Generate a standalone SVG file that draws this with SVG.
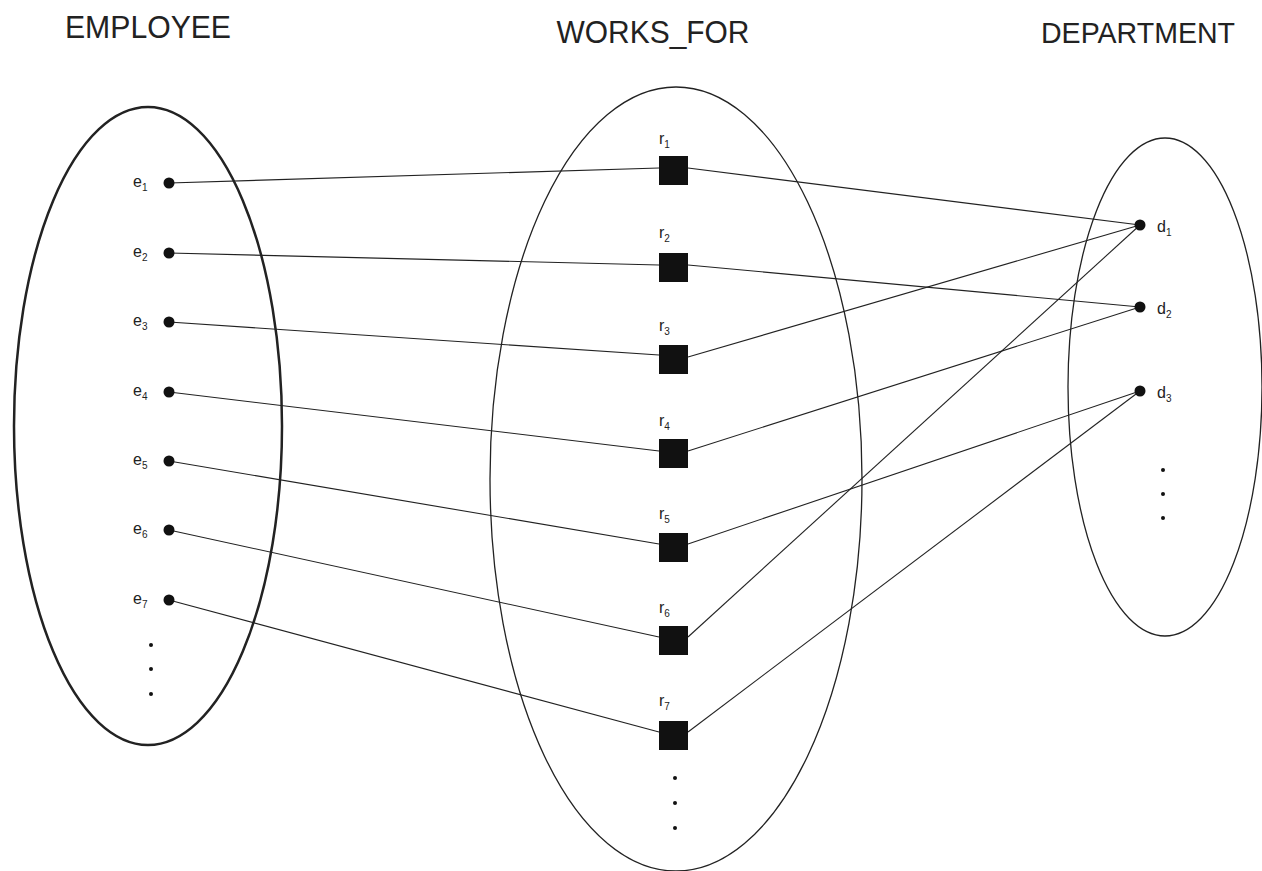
<svg xmlns="http://www.w3.org/2000/svg" width="1262" height="871" viewBox="0 0 1262 871">
<style>
.set{fill:none;stroke:#222;stroke-width:1.3}
.title{font-family:"Liberation Sans",Arial,sans-serif;font-size:31px;fill:#222}
.lbl{font-family:"Liberation Sans",Arial,sans-serif;font-size:16px;fill:#222}
.sub{font-size:10px}
.dot{fill:#111}
.sq{fill:#111}
.ln{stroke:#222;stroke-width:1.1;fill:none}
</style>
<rect width="1262" height="871" fill="#fff"/>
<g id="titles">
<text class="title" x="148" y="38" text-anchor="middle" textLength="166" lengthAdjust="spacingAndGlyphs">EMPLOYEE</text>
<text class="title" x="653" y="43" text-anchor="middle" textLength="193" lengthAdjust="spacingAndGlyphs">WORKS_FOR</text>
<text class="title" x="1138" y="43" text-anchor="middle" textLength="194" lengthAdjust="spacingAndGlyphs" style="font-size:30px">DEPARTMENT</text>
</g>
<g id="sets">
<ellipse id="employee-set" class="set" cx="148" cy="426" rx="134" ry="319" style="stroke-width:2.5"/>
<ellipse id="works_for-set" class="set" cx="676" cy="479" rx="186" ry="392"/>
<ellipse id="department-set" class="set" cx="1165" cy="387" rx="97" ry="249"/>
</g>
<g id="connectors">
<line class="ln" x1="169" y1="183" x2="659" y2="168"/>
<line class="ln" x1="169" y1="253" x2="659" y2="265"/>
<line class="ln" x1="169" y1="322" x2="659" y2="355"/>
<line class="ln" x1="169" y1="392" x2="659" y2="451"/>
<line class="ln" x1="169" y1="461" x2="659" y2="544"/>
<line class="ln" x1="169" y1="530" x2="659" y2="637"/>
<line class="ln" x1="169" y1="600" x2="659" y2="732"/>
<line class="ln" x1="688" y1="168" x2="1140" y2="225"/>
<line class="ln" x1="688" y1="265" x2="1140" y2="307"/>
<line class="ln" x1="688" y1="357" x2="1140" y2="225"/>
<line class="ln" x1="688" y1="451" x2="1140" y2="307"/>
<line class="ln" x1="688" y1="544" x2="1140" y2="391"/>
<line class="ln" x1="688" y1="637" x2="1140" y2="225"/>
<line class="ln" x1="688" y1="732" x2="1140" y2="391"/>
</g>
<g id="e1"><circle class="dot" cx="169" cy="183" r="5.5"/><text class="lbl" x="133" y="187">e<tspan class="sub" dy="4">1</tspan></text></g>
<g id="e2"><circle class="dot" cx="169" cy="253" r="5.5"/><text class="lbl" x="133" y="257">e<tspan class="sub" dy="4">2</tspan></text></g>
<g id="e3"><circle class="dot" cx="169" cy="322" r="5.5"/><text class="lbl" x="133" y="326">e<tspan class="sub" dy="4">3</tspan></text></g>
<g id="e4"><circle class="dot" cx="169" cy="392" r="5.5"/><text class="lbl" x="133" y="396">e<tspan class="sub" dy="4">4</tspan></text></g>
<g id="e5"><circle class="dot" cx="169" cy="461" r="5.5"/><text class="lbl" x="133" y="465">e<tspan class="sub" dy="4">5</tspan></text></g>
<g id="e6"><circle class="dot" cx="169" cy="530" r="5.5"/><text class="lbl" x="133" y="534">e<tspan class="sub" dy="4">6</tspan></text></g>
<g id="e7"><circle class="dot" cx="169" cy="600" r="5.5"/><text class="lbl" x="133" y="604">e<tspan class="sub" dy="4">7</tspan></text></g>
<g id="e-more"><circle class="dot" cx="151" cy="645" r="2"/><circle class="dot" cx="151" cy="669" r="2"/><circle class="dot" cx="151" cy="694" r="2"/></g>
<g id="r1"><rect class="sq" x="659" y="156" width="29" height="29"/><text class="lbl" x="659" y="144">r<tspan class="sub" dy="4">1</tspan></text></g>
<g id="r2"><rect class="sq" x="659" y="253" width="29" height="29"/><text class="lbl" x="659" y="238">r<tspan class="sub" dy="4">2</tspan></text></g>
<g id="r3"><rect class="sq" x="659" y="345" width="29" height="29"/><text class="lbl" x="659" y="331">r<tspan class="sub" dy="4">3</tspan></text></g>
<g id="r4"><rect class="sq" x="659" y="439" width="29" height="29"/><text class="lbl" x="659" y="426">r<tspan class="sub" dy="4">4</tspan></text></g>
<g id="r5"><rect class="sq" x="659" y="533" width="29" height="29"/><text class="lbl" x="659" y="519">r<tspan class="sub" dy="4">5</tspan></text></g>
<g id="r6"><rect class="sq" x="659" y="626" width="29" height="29"/><text class="lbl" x="659" y="613">r<tspan class="sub" dy="4">6</tspan></text></g>
<g id="r7"><rect class="sq" x="659" y="721" width="29" height="29"/><text class="lbl" x="659" y="706">r<tspan class="sub" dy="4">7</tspan></text></g>
<g id="r-more"><circle class="dot" cx="675" cy="778" r="2"/><circle class="dot" cx="675" cy="803" r="2"/><circle class="dot" cx="675" cy="828" r="2"/></g>
<g id="d1"><circle class="dot" cx="1140" cy="225" r="5.5"/><text class="lbl" x="1157" y="232">d<tspan class="sub" dy="4">1</tspan></text></g>
<g id="d2"><circle class="dot" cx="1140" cy="307" r="5.5"/><text class="lbl" x="1157" y="314">d<tspan class="sub" dy="4">2</tspan></text></g>
<g id="d3"><circle class="dot" cx="1140" cy="391" r="5.5"/><text class="lbl" x="1157" y="398">d<tspan class="sub" dy="4">3</tspan></text></g>
<g id="d-more"><circle class="dot" cx="1163" cy="470" r="2"/><circle class="dot" cx="1163" cy="494" r="2"/><circle class="dot" cx="1163" cy="518" r="2"/></g>
</svg>
